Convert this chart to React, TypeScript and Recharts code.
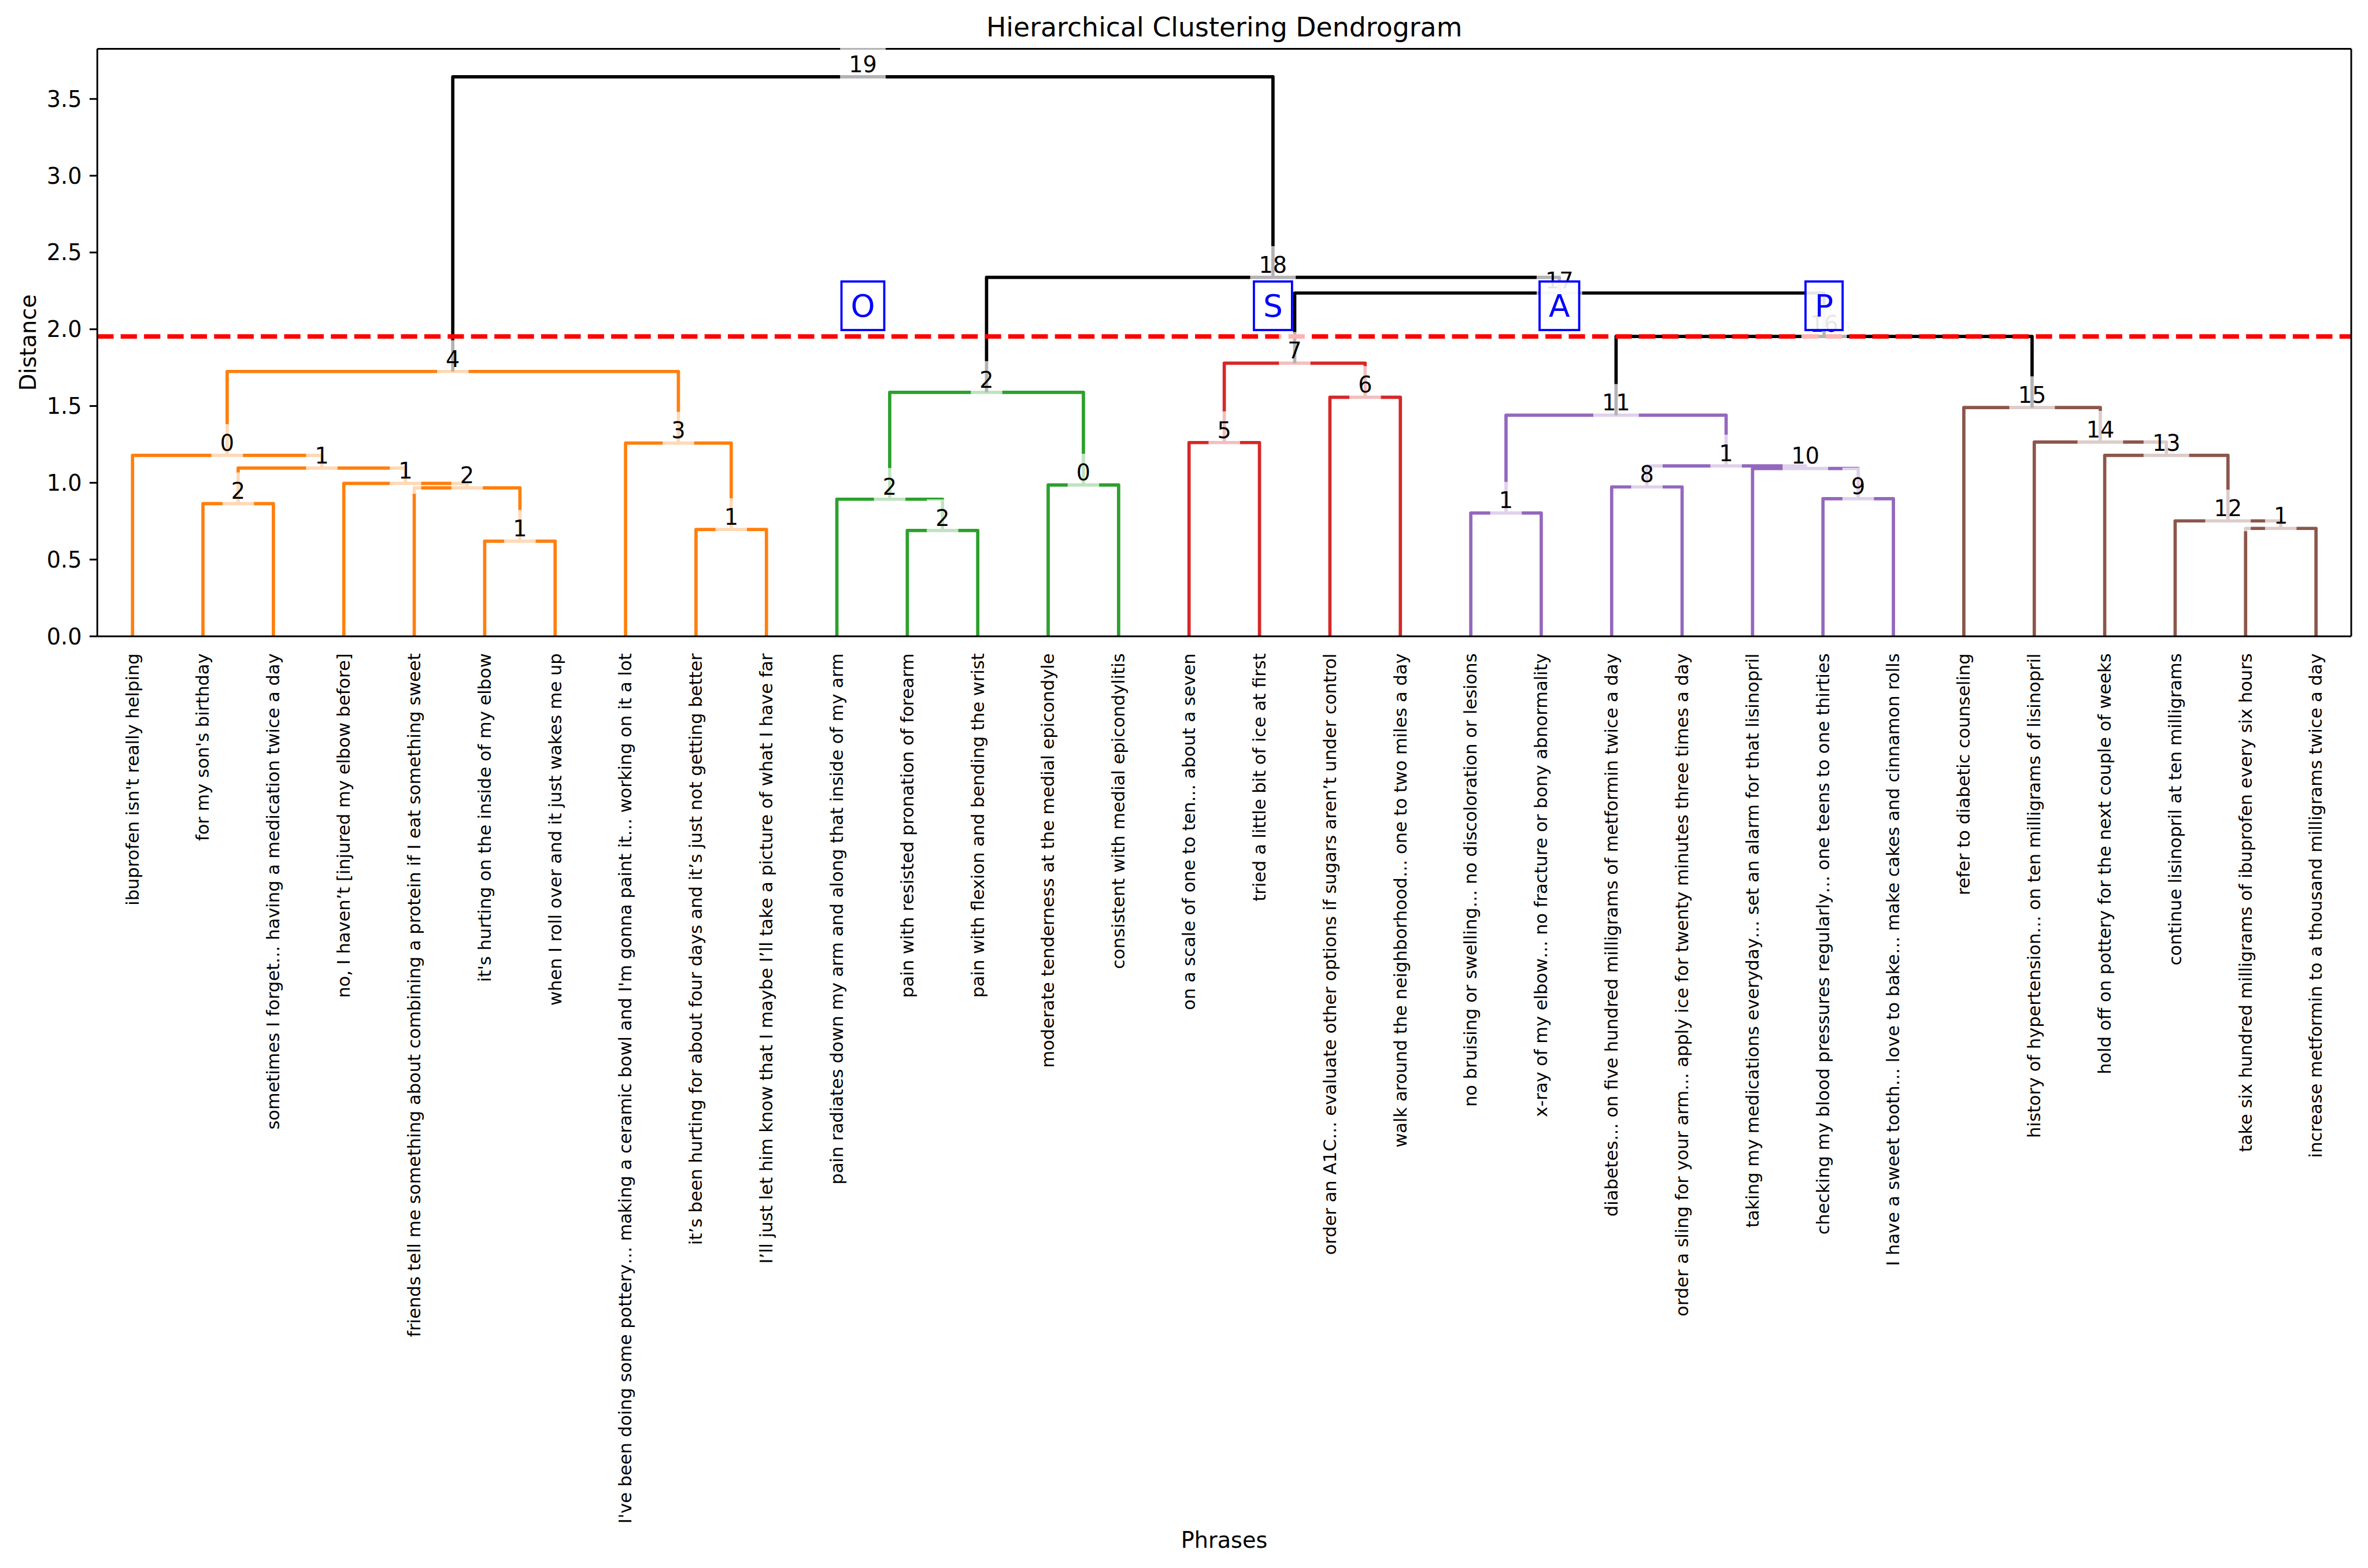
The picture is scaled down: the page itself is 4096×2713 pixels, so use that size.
import React from "react"
import { ComposedChart, Line, Scatter, XAxis, YAxis, ReferenceLine } from "recharts"

const FONT = "DejaVu Sans"

// leaves, in the order the dendrogram draws them
const phrases = [
  "ibuprofen isn't really helping",
  "for my son's birthday",
  "sometimes I forget… having a medication twice a day",
  "no, I haven’t [injured my elbow before]",
  "friends tell me something about combining a protein if I eat something sweet",
  "it's hurting on the inside of my elbow",
  "when I roll over and it just wakes me up",
  "I've been doing some pottery… making a ceramic bowl and I'm gonna paint it… working on it a lot",
  "it’s been hurting for about four days and it’s just not getting better",
  "I’ll just let him know that I maybe I’ll take a picture of what I have far",
  "pain radiates down my arm and along that inside of my arm",
  "pain with resisted pronation of forearm",
  "pain with flexion and bending the wrist",
  "moderate tenderness at the medial epicondyle",
  "consistent with medial epicondylitis",
  "on a scale of one to ten… about a seven",
  "tried a little bit of ice at first",
  "order an A1C… evaluate other options if sugars aren’t under control",
  "walk around the neighborhood… one to two miles a day",
  "no bruising or swelling… no discoloration or lesions",
  "x-ray of my elbow… no fracture or bony abnormality",
  "diabetes… on five hundred milligrams of metformin twice a day",
  "order a sling for your arm… apply ice for twenty minutes three times a day",
  "taking my medications everyday… set an alarm for that lisinopril",
  "checking my blood pressures regularly… one teens to one thirties",
  "I have a sweet tooth… love to bake… make cakes and cinnamon rolls",
  "refer to diabetic counseling",
  "history of hypertension… on ten milligrams of lisinopril",
  "hold off on pottery for the next couple of weeks",
  "continue lisinopril at ten milligrams",
  "take six hundred milligrams of ibuprofen every six hours",
  "increase metformin to a thousand milligrams twice a day",
]

const leafTicks = [
  5, 15, 25, 35, 45, 55, 65, 75, 85, 95, 105, 115, 125, 135, 145, 155,
  165, 175, 185, 195, 205, 215, 225, 235, 245, 255, 265, 275, 285, 295, 305, 315,
]

const yTicks = [0, 0.5, 1, 1.5, 2, 2.5, 3, 3.5]
const yMax = 3.826
const xMax = 320
const threshold = 1.953

// link coordinates, scipy style (icoord / dcoord)
const linkX = [
  [15, 15, 25, 25],
  [55, 55, 65, 65],
  [85, 85, 95, 95],
  [45, 45, 60, 60],
  [35, 35, 52.5, 52.5],
  [20, 20, 43.75, 43.75],
  [5, 5, 31.875, 31.875],
  [75, 75, 90, 90],
  [18.4375, 18.4375, 82.5, 82.5],
  [115, 115, 125, 125],
  [105, 105, 120, 120],
  [135, 135, 145, 145],
  [112.5, 112.5, 140, 140],
  [155, 155, 165, 165],
  [175, 175, 185, 185],
  [160, 160, 180, 180],
  [195, 195, 205, 205],
  [215, 215, 225, 225],
  [245, 245, 255, 255],
  [235, 235, 250, 250],
  [220, 220, 242.5, 242.5],
  [200, 200, 231.25, 231.25],
  [305, 305, 315, 315],
  [295, 295, 310, 310],
  [285, 285, 302.5, 302.5],
  [275, 275, 293.75, 293.75],
  [265, 265, 284.375, 284.375],
  [215.625, 215.625, 274.6875, 274.6875],
  [170, 170, 245.15625, 245.15625],
  [126.25, 126.25, 207.578125, 207.578125],
  [50.46875, 50.46875, 166.9140625, 166.9140625],
]

const linkY = [
  [0, 0.864, 0.864, 0],
  [0, 0.62, 0.62, 0],
  [0, 0.696, 0.696, 0],
  [0, 0.967, 0.967, 0.62],
  [0, 0.996, 0.996, 0.967],
  [0.864, 1.096, 1.096, 0.996],
  [0, 1.179, 1.179, 1.096],
  [0, 1.259, 1.259, 0.696],
  [1.179, 1.725, 1.725, 1.259],
  [0, 0.689, 0.689, 0],
  [0, 0.893, 0.893, 0.689],
  [0, 0.986, 0.986, 0],
  [0.893, 1.589, 1.589, 0.986],
  [0, 1.262, 1.262, 0],
  [0, 1.557, 1.557, 0],
  [1.262, 1.779, 1.779, 1.557],
  [0, 0.803, 0.803, 0],
  [0, 0.973, 0.973, 0],
  [0, 0.896, 0.896, 0],
  [0, 1.093, 1.093, 0.896],
  [0.973, 1.11, 1.11, 1.093],
  [0.803, 1.44, 1.44, 1.11],
  [0, 0.703, 0.703, 0],
  [0, 0.752, 0.752, 0.703],
  [0, 1.179, 1.179, 0.752],
  [0, 1.265, 1.265, 1.179],
  [0, 1.49, 1.49, 1.265],
  [1.44, 1.953, 1.953, 1.49],
  [1.779, 2.236, 2.236, 1.953],
  [1.589, 2.338, 2.338, 2.236],
  [1.725, 3.644, 3.644, 2.338],
]

const linkCluster = [
  "C1", "C1", "C1", "C1", "C1", "C1", "C1", "C1", "C1",
  "C2", "C2", "C2", "C2",
  "C3", "C3", "C3",
  "C4", "C4", "C4", "C4", "C4", "C4",
  "C5", "C5", "C5", "C5", "C5",
  "top", "top", "top", "top",
]

const nodeLabels = [
  "2", "1", "1", "2", "1", "1", "0", "3", "4",
  "2", "2", "0", "2",
  "5", "6", "7",
  "1", "8", "9", "10", "1", "11",
  "1", "12", "13", "14", "15",
  "16", "17", "18", "19",
]

const sectionLetters = ["O", "S", "A", "P"]
const sectionX = [108.69140625, 166.9140625, 207.578125, 245.15625]
const sectionY = 2.153

const clusterColors: Record<string, string> = {
  C1: "#ff7f0e",
  C2: "#2ca02c",
  C3: "#d62728",
  C4: "#9467bd",
  C5: "#8c564b",
  top: "#000000",
}

const letterWidth: Record<string, number> = { O: 0.787, S: 0.635, A: 0.684, P: 0.603 }

const nodeTags = linkX.map((xs, i) => ({ x: (xs[1] + xs[2]) / 2, y: linkY[i][1], label: nodeLabels[i] }))
const sectionTags = sectionLetters.map((l, i) => ({ x: sectionX[i], y: sectionY, label: l }))

const LeafTick = (props: any) => {
  const { x, y, index } = props
  return (
    <text
      transform={`translate(${x},${y}) rotate(-90)`}
      textAnchor="end"
      dy="0.34em"
      fontSize={30.5}
      fontFamily={FONT}
      fill="#000"
    >
      {phrases[index]}
    </text>
  )
}

const NodeTag = (props: any) => {
  const { cx, cy, payload } = props
  const w = 30.2 + 24.3 * payload.label.length
  return (
    <g>
      <rect x={cx - w / 2} y={cy - 54} width={w} height={72} fill="#fff" fillOpacity={0.7} />
      <text x={cx} y={cy - 8.2} textAnchor="middle" fontSize={38.2} fontFamily={FONT} fill="#000">
        {payload.label}
      </text>
    </g>
  )
}

const SectionTag = (props: any) => {
  const { cx, cy, payload } = props
  const fs = 53.4
  const w = (letterWidth[payload.label] || 0.7) * fs + 32
  const h = 84
  return (
    <g>
      <rect x={cx - w / 2} y={cy - h / 2} width={w} height={h} fill="#fff" fillOpacity={0.9} stroke="#0000ff" strokeWidth={3.8} />
      <text x={cx} y={cy} textAnchor="middle" dominantBaseline="central" fontSize={fs} fontFamily={FONT} fill="#0000ff">
        {payload.label}
      </text>
    </g>
  )
}

export default function App() {
  return (
    <div style={{ position: "absolute", left: 0, top: 0, width: 4096, height: 2713, background: "#fff" }}>
      <ComposedChart width={4096} height={2713} margin={{ top: 84.6, right: 29, bottom: 0, left: 0 }}>
        <XAxis
          dataKey="x"
          type="number"
          domain={[0, xMax]}
          ticks={leafTicks}
          interval={0}
          height={1612}
          tickLine={false}
          tickSize={13.4}
          tickMargin={16}
          axisLine={{ stroke: "#000", strokeWidth: 3 }}
          tick={LeafTick}
        />
        <YAxis
          type="number"
          domain={[0, yMax]}
          ticks={yTicks}
          interval={0}
          width={168.3}
          tickSize={13.4}
          tickMargin={13.4}
          tickFormatter={(v: number) => v.toFixed(1)}
          tick={{ fill: "#000", fontSize: 38.2, fontFamily: FONT }}
          tickLine={{ stroke: "#000", strokeWidth: 3 }}
          axisLine={{ stroke: "#000", strokeWidth: 3 }}
        />

        {linkX.map((xs, i) => (
          <Line
            key={`link-${i}`}
            data={xs.map((x, j) => ({ x, y: linkY[i][j] }))}
            dataKey="y"
            type="linear"
            stroke={clusterColors[linkCluster[i]]}
            strokeWidth={5.7}
            strokeLinecap="butt"
            strokeLinejoin="round"
            dot={false}
            activeDot={false}
            isAnimationActive={false}
          />
        ))}

        <Line
          data={[{ x: 0, y: threshold }, { x: xMax, y: threshold }]}
          dataKey="y"
          stroke="#ff0000"
          strokeWidth={7.6}
          strokeDasharray="28.2 12.2"
          strokeLinecap="butt"
          dot={false}
          activeDot={false}
          isAnimationActive={false}
        />

        <ReferenceLine y={yMax} stroke="#000" strokeWidth={3} ifOverflow="visible" />
        <ReferenceLine x={xMax} stroke="#000" strokeWidth={3} ifOverflow="visible" />

        <Scatter data={nodeTags} dataKey="y" shape={NodeTag} isAnimationActive={false} />
        <Scatter data={sectionTags} dataKey="y" shape={SectionTag} isAnimationActive={false} />

        <text x={2117.6} y={63.4} textAnchor="middle" fontSize={45.8} fontFamily={FONT} fill="#000">
          Hierarchical Clustering Dendrogram
        </text>
        <text x={2117.6} y={2678} textAnchor="middle" fontSize={38.2} fontFamily={FONT} fill="#000">
          Phrases
        </text>
        <text
          x={62.3}
          y={592.8}
          transform="rotate(-90, 62.3, 592.8)"
          textAnchor="middle"
          fontSize={38.2}
          fontFamily={FONT}
          fill="#000"
        >
          Distance
        </text>
      </ComposedChart>
    </div>
  )
}
